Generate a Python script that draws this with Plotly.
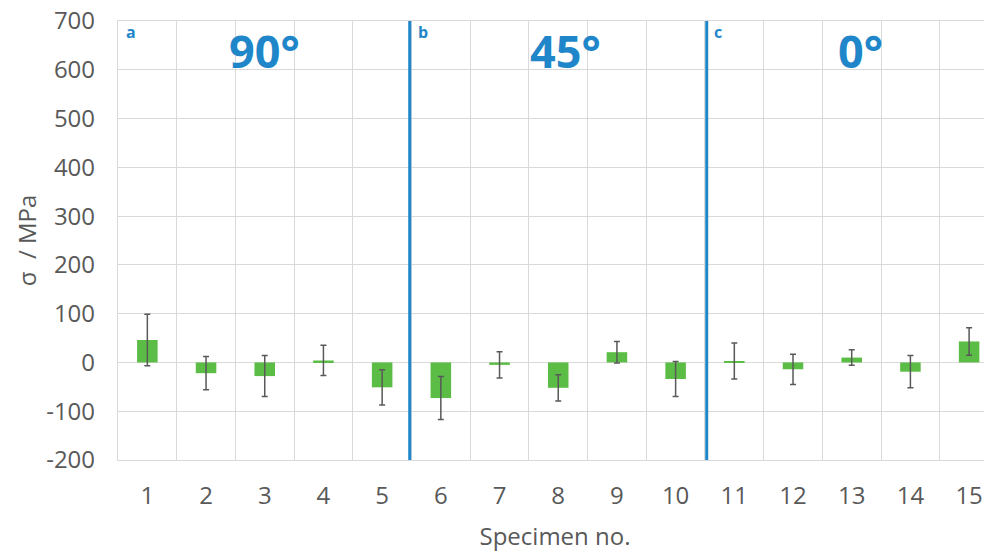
import plotly.graph_objects as go

specimens = list(range(1, 16))
stress = [46, -22, -28, 4, -51, -73, -5, -52, 21, -34, 3, -14, 10, -19, 43]
stress_err = [53, 34, 42, 31, 36, 44, 27, 27, 22, 36, 37, 31, 16, 33, 28]
y_ticks = [-200, -100, 0, 100, 200, 300, 400, 500, 600, 700]
y_tick_text = [str(v) for v in y_ticks]
group_dividers = [5.47, 10.53]
group_labels = ["90°", "45°", "0°"]
group_label_x = [3.0, 8.13, 13.15]
panel_letters = ["a", "b", "c"]
panel_letter_x = [0.72, 5.7, 10.72]

blue = "#1f87c9"
grid = "#d9d9d9"
txt = "#595959"
font = "Open Sans"
fs = 24

fig = go.Figure()
fig.add_trace(go.Bar(
    x=specimens, y=stress, width=0.35,
    marker=dict(color="#5cbd46", line=dict(width=0)),
    error_y=dict(type="data", array=stress_err, visible=True,
                 color="#595959", thickness=1.5, width=3),
))

for xd in group_dividers:
    fig.add_shape(type="line", xref="x", yref="y", x0=xd, x1=xd, y0=-200, y1=700,
                  line=dict(color=blue, width=3))

for lab, xl in zip(group_labels, group_label_x):
    fig.add_annotation(x=xl, y=640, xref="x", yref="y", text="<b>%s</b>" % lab,
                       showarrow=False, font=dict(family=font, size=45, color=blue))
for lab, xl in zip(panel_letters, panel_letter_x):
    fig.add_annotation(x=xl, y=678, xref="x", yref="y", text="<b>%s</b>" % lab,
                       showarrow=False, xanchor="center",
                       font=dict(family=font, size=16, color=blue))

fig.update_layout(
    width=984, height=544,
    margin=dict(l=110, r=0, t=13, b=92, autoexpand=False),
    paper_bgcolor="white", plot_bgcolor="white",
    showlegend=False,
    font=dict(family=font, color=txt, size=fs),
    xaxis=dict(
        range=[0.5, 15.39], tickvals=specimens, ticktext=[str(s) for s in specimens],
        showgrid=False, zeroline=False, ticks="", ticklen=0, ticklabelstandoff=14,
        ticklabeloverflow="allow", automargin=False,
        minor=dict(tickvals=[i + 0.5 for i in range(0, 16)], showgrid=True,
                   gridcolor=grid, gridwidth=1.3, ticks=""),
        showline=True, linecolor=grid, linewidth=1.3, mirror=True,
        title=dict(text="Specimen no.", font=dict(size=fs, color=txt), standoff=18),
        tickfont=dict(size=fs, color=txt),
    ),
    yaxis=dict(
        range=[-200, 700], tickvals=y_ticks, ticktext=y_tick_text,
        showgrid=True, gridcolor=grid, gridwidth=1.3, ticklabelstandoff=17,
        ticklabeloverflow="allow", automargin=False,
        zeroline=False, showline=True, linecolor=grid, linewidth=1.3, ticks="", ticklen=0,
        title=dict(text="σ  / MPa", font=dict(size=fs, color=txt), standoff=2),
        tickfont=dict(size=fs, color=txt),
    ),
)

fig.write_html("out.html")
